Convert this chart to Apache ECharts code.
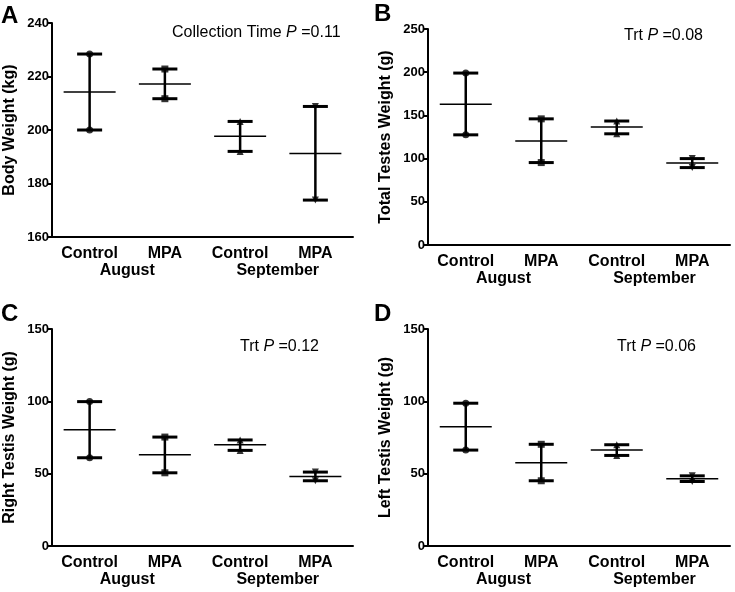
<!DOCTYPE html>
<html>
<head>
<meta charset="utf-8">
<script src="https://cdn.jsdelivr.net/npm/echarts@6/dist/echarts.min.js"></script>
<style>
  html, body { margin: 0; padding: 0; background: #fff; }
  #chart { width: 735px; height: 592px; }
</style>
</head>
<body>
<div id="chart"></div>
<script>
// categories
const categories = ["Control", "MPA", "Control", "MPA"];
const months = ["August", "September"];

// A: body weight (kg)
const bodyMax = [228.4, 222.8, 203.2, 208.8];
const bodyMin = [200.0, 211.7, 192.0, 173.8];
const bodyMean = [214.2, 217.2, 197.7, 191.2];

// B: total testes weight (g)
const totalMax = [199, 146, 143.5, 100];
const totalMin = [127.5, 95.4, 128.7, 89.6];
const totalMean = [163, 120.5, 136.5, 95];

// C: right testis weight (g)
const rightMax = [99.8, 75.3, 73.3, 51.1];
const rightMin = [61.0, 50.6, 66.1, 45.1];
const rightMean = [80.4, 63.1, 70.0, 48.1];

// D: left testis weight (g)
const leftMax = [98.7, 70.3, 70.0, 48.5];
const leftMin = [66.3, 45.1, 62.6, 44.6];
const leftMean = [82.5, 57.5, 66.3, 46.5];

const FONT = "'Liberation Sans', Arial, sans-serif";
const symbols = ["circle", "rect", "triangle", "triangle"];
const symbolRot = [0, 0, 0, 180];

const panels = [
  { letter: "A", name: "Body Weight (kg)", note: ["Collection Time ", "0.11"],
    max: bodyMax, min: bodyMin, mean: bodyMean, yMin: 160, yMax: 240, step: 20,
    grid: { left: 52, top: 23, width: 301, height: 214 },
    letterPos: [1, 4], notePos: [172, 33] },
  { letter: "B", name: "Total Testes Weight (g)", note: ["Trt ", "0.08"],
    max: totalMax, min: totalMin, mean: totalMean, yMin: 0, yMax: 250, step: 50,
    grid: { left: 428, top: 29, width: 302, height: 216 },
    letterPos: [374, 2], notePos: [624, 36] },
  { letter: "C", name: "Right Testis Weight (g)", note: ["Trt ", "0.12"],
    max: rightMax, min: rightMin, mean: rightMean, yMin: 0, yMax: 150, step: 50,
    grid: { left: 52, top: 329, width: 301, height: 217 },
    letterPos: [1, 302], notePos: [240, 347] },
  { letter: "D", name: "Left Testis Weight (g)", note: ["Trt ", "0.06"],
    max: leftMax, min: leftMin, mean: leftMean, yMin: 0, yMax: 150, step: 50,
    grid: { left: 428, top: 329, width: 302, height: 217 },
    letterPos: [374, 302], notePos: [617, 347] }
];

const grids = [], xAxes = [], yAxes = [], series = [], graphics = [];

panels.forEach((p, k) => {
  grids.push(Object.assign({ outerBoundsMode: "none", containLabel: false }, p.grid));
  xAxes.push({
    type: "category", gridIndex: k, data: categories,
    axisLine: { lineStyle: { color: "#000", width: 2 } },
    axisTick: { alignWithLabel: true, length: 5, lineStyle: { width: 2, color: "#000" } },
    axisLabel: { color: "#000", fontFamily: FONT, fontWeight: "bold", fontSize: 16, margin: 9 },
    splitLine: { show: false }
  });
  xAxes.push({
    type: "category", gridIndex: k, data: months, position: "bottom", offset: 17,
    axisLine: { show: false }, axisTick: { show: false },
    axisLabel: { color: "#000", fontFamily: FONT, fontWeight: "bold", fontSize: 16, margin: 9 },
    splitLine: { show: false }
  });
  yAxes.push({
    type: "value", gridIndex: k, min: p.yMin, max: p.yMax, interval: p.step,
    name: p.name, nameLocation: "middle", nameRotate: 90, nameGap: 34,
    nameTextStyle: { color: "#000", fontFamily: FONT, fontWeight: "bold", fontSize: 16 },
    axisLine: { show: true, lineStyle: { color: "#000", width: 2 } },
    axisTick: { show: true, length: 5, lineStyle: { width: 2, color: "#000" } },
    axisLabel: { color: "#000", fontFamily: FONT, fontWeight: "bold", fontSize: 13, margin: 3 },
    splitLine: { show: false }
  });

  // range bars with caps and mean line
  series.push({
    type: "custom", xAxisIndex: 2 * k, yAxisIndex: k,
    data: categories.map((c, i) => [i, p.min[i], p.max[i], p.mean[i]]),
    renderItem: function (params, api) {
      const i = api.value(0);
      const lo = api.coord([i, api.value(1)]);
      const hi = api.coord([i, api.value(2)]);
      const mu = api.coord([i, api.value(3)]);
      const cap = 12.5, half = 26;
      const st = (w) => ({ stroke: "#000", lineWidth: w });
      return {
        type: "group",
        children: [
          { type: "line", shape: { x1: lo[0], y1: lo[1], x2: hi[0], y2: hi[1] }, style: st(2.5) },
          { type: "line", shape: { x1: lo[0] - cap, y1: lo[1], x2: lo[0] + cap, y2: lo[1] }, style: st(3) },
          { type: "line", shape: { x1: hi[0] - cap, y1: hi[1], x2: hi[0] + cap, y2: hi[1] }, style: st(3) },
          { type: "line", shape: { x1: mu[0] - half, y1: mu[1], x2: mu[0] + half, y2: mu[1] }, style: st(1.5) }
        ]
      };
    },
    z: 2
  });

  // individual points
  categories.forEach((c, i) => {
    series.push({
      type: "scatter", xAxisIndex: 2 * k, yAxisIndex: k,
      symbol: symbols[i], symbolRotate: symbolRot[i], symbolSize: 7,
      itemStyle: { color: "#000" },
      data: [[i, p.max[i]], [i, p.min[i]]],
      z: 3
    });
  });

  graphics.push({
    type: "text", left: p.letterPos[0], top: p.letterPos[1],
    style: { text: p.letter, fill: "#000", font: "bold 24px " + FONT }
  });
  graphics.push({
    type: "text", x: p.notePos[0], y: p.notePos[1],
    style: {
      text: "{n|" + p.note[0] + "}{i|P}{n| =" + p.note[1] + "}",
      verticalAlign: "middle",
      rich: {
        n: { fill: "#000", fontFamily: FONT, fontSize: 16 },
        i: { fill: "#000", fontFamily: FONT, fontSize: 16, fontStyle: "italic" }
      }
    }
  });
});

const chart = echarts.init(document.getElementById("chart"), null, { renderer: "canvas" });
chart.setOption({
  animation: false,
  backgroundColor: "#fff",
  grid: grids,
  xAxis: xAxes,
  yAxis: yAxes,
  series: series,
  graphic: graphics
});
</script>
</body>
</html>
